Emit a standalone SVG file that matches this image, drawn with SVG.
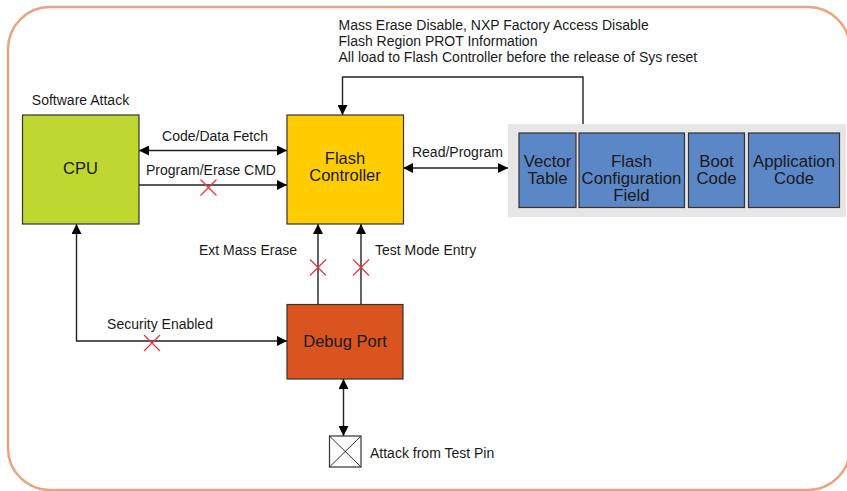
<svg xmlns="http://www.w3.org/2000/svg" width="847" height="491" viewBox="0 0 847 491">
  <defs>
    <marker id="arrow" viewBox="0 0 10 10" refX="10" refY="5" markerWidth="10" markerHeight="10" markerUnits="userSpaceOnUse" orient="auto-start-reverse">
      <path d="M0,0 L10,5 L0,10 Z" fill="#000"/>
    </marker>
    <style>
      text { font-family: "Liberation Sans", Arial, sans-serif; fill: #1a1a1a; }
      .lbl { font-size: 14px; }
      .big { font-size: 16.5px; text-anchor: middle; }
      .mem { font-size: 16.8px; text-anchor: middle; }
      .box { stroke: #333; stroke-width: 1.2; }
      .wire { fill: none; stroke: #222; stroke-width: 1.4; }
      .cross { stroke: #E8323C; stroke-width: 1.2; fill: none; }
    </style>
  </defs>

  <rect width="847" height="491" fill="#fff"/>
  <!-- outer frame -->
  <rect x="8" y="7" width="842" height="483" rx="42" ry="42" fill="none" stroke="#EBA27E" stroke-width="2.5"/>

  <!-- connectors -->
  <g id="connectors">
    <line class="wire" x1="139" y1="150.5" x2="287" y2="150.5" marker-start="url(#arrow)" marker-end="url(#arrow)"/>
    <line class="wire" x1="139" y1="185" x2="287" y2="185" marker-end="url(#arrow)"/>
    <line class="wire" x1="403" y1="168" x2="508" y2="168" marker-start="url(#arrow)" marker-end="url(#arrow)"/>
    <polyline class="wire" points="583,124 583,77 342.5,77 342.5,115" marker-end="url(#arrow)"/>
    <line class="wire" x1="318" y1="304" x2="318" y2="224" marker-end="url(#arrow)"/>
    <line class="wire" x1="361" y1="304" x2="361" y2="224" marker-end="url(#arrow)"/>
    <polyline class="wire" points="287,341 76.5,341 76.5,224" marker-start="url(#arrow)" marker-end="url(#arrow)"/>
    <line class="wire" x1="343.5" y1="379" x2="343.5" y2="436" marker-start="url(#arrow)" marker-end="url(#arrow)"/>

    <!-- blocked paths -->
    <path class="cross" d="M200.5,179.5 L216.5,195.5 M216.5,179.5 L200.5,195.5"/>
    <path class="cross" d="M310,259.5 L326,275.5 M326,259.5 L310,275.5"/>
    <path class="cross" d="M353,259.5 L369,275.5 M369,259.5 L353,275.5"/>
    <path class="cross" d="M144,335 L160,351 M160,335 L144,351"/>

    <text class="lbl" x="215" y="141" text-anchor="middle">Code/Data Fetch</text>
    <text class="lbl" x="211" y="175" text-anchor="middle">Program/Erase CMD</text>
    <text class="lbl" x="457.5" y="157" text-anchor="middle">Read/Program</text>
    <text class="lbl" x="297" y="254.5" text-anchor="end">Ext Mass Erase</text>
    <text class="lbl" x="375" y="254.5">Test Mode Entry</text>
    <text class="lbl" x="160" y="328.5" text-anchor="middle">Security Enabled</text>
    <text class="lbl" x="338.5" y="30">Mass Erase Disable, NXP Factory Access Disable</text>
    <text class="lbl" x="338.5" y="46">Flash Region PROT Information</text>
    <text class="lbl" x="338.5" y="62">All load to Flash Controller before the release of Sys reset</text>
  </g>

  <g id="cpu">
    <text class="lbl" x="80.5" y="104.5" text-anchor="middle">Software Attack</text>
    <rect class="box" x="22.5" y="115" width="116.5" height="109" fill="#BFD730"/>
    <text class="big" x="80.5" y="174">CPU</text>
  </g>

  <g id="flash-controller">
    <rect class="box" x="287" y="115" width="116.5" height="109" fill="#FFCC00"/>
    <text class="big" x="345" y="163.5">Flash</text>
    <text class="big" x="345" y="180.5">Controller</text>
  </g>

  <g id="debug-port">
    <rect class="box" x="287" y="304.5" width="116" height="74.5" fill="#D9541E"/>
    <text class="big" x="345" y="347">Debug Port</text>
  </g>

  <g id="flash-memory">
    <rect x="508" y="124" width="338" height="93" fill="#E6E6E6"/>
    <rect class="box" x="519" y="133" width="57" height="74.5" fill="#5B87C6"/>
    <rect class="box" x="579" y="133" width="105.5" height="74.5" fill="#5B87C6"/>
    <rect class="box" x="688.5" y="133" width="56" height="74.5" fill="#5B87C6"/>
    <rect class="box" x="748.5" y="133" width="91" height="74.5" fill="#5B87C6"/>
    <text class="mem" x="547.5" y="167">Vector</text>
    <text class="mem" x="547.5" y="184">Table</text>
    <text class="mem" x="631.5" y="167">Flash</text>
    <text class="mem" x="631.5" y="184">Configuration</text>
    <text class="mem" x="631.5" y="201">Field</text>
    <text class="mem" x="716.5" y="167">Boot</text>
    <text class="mem" x="716.5" y="184">Code</text>
    <text class="mem" x="794" y="167">Application</text>
    <text class="mem" x="794" y="184">Code</text>
  </g>

  <g id="test-pin">
    <rect x="329.5" y="436" width="31.5" height="31" fill="#fff" stroke="#333" stroke-width="1.2"/>
    <path d="M329.5,436 L361,467 M361,436 L329.5,467" stroke="#333" stroke-width="1" fill="none"/>
    <text class="lbl" x="370" y="458">Attack from Test Pin</text>
  </g>
</svg>
